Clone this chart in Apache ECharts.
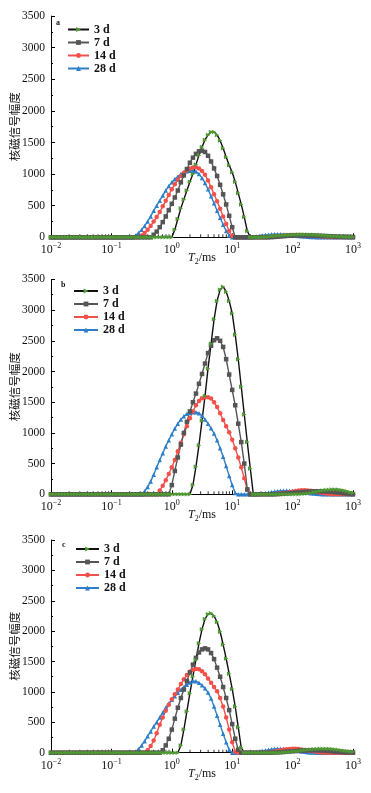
<!DOCTYPE html>
<html><head><meta charset="utf-8">
<script src="https://cdn.jsdelivr.net/npm/echarts@6/dist/echarts.min.js"></script>
<style>html,body{margin:0;padding:0;background:#fff}#c{width:371px;height:793px}</style>
</head><body><div id="c"></div>
<script>
// T2 relaxation times (ms), shared sampling grid
const T2 = [
0.01,0.01122,0.01259,0.01413,0.01585,0.01778,0.01995,0.02239,0.02512,0.02818,0.03162,0.03548,0.03981,0.04467,0.05012,0.05623,0.0631,0.07079,0.07943,0.08913,
0.1,0.1122,0.1259,0.1413,0.1585,0.1778,0.1995,0.2239,0.2512,0.2818,0.3162,0.3548,0.3981,0.4467,0.5012,0.5623,0.631,0.7079,0.7943,0.8913,
1,1.122,1.259,1.413,1.585,1.778,1.995,2.239,2.512,2.818,3.162,3.548,3.981,4.467,5.012,5.623,6.31,7.079,7.943,8.913,
10,11.22,12.59,14.13,15.85,17.78,19.95,22.39,25.12,28.18,31.62,35.48,39.81,44.67,50.12,56.23,63.1,70.79,79.43,89.13,
100,112.2,125.9,141.3,158.5,177.8,199.5,223.9,251.2,281.8,316.2,354.8,398.1,446.7,501.2,562.3,631,707.9,794.3,891.3,
1000];

const seriesNames = ['3 d','7 d','14 d','28 d'];
const panelLabels = ['a','b','c'];
const xTickValues = [0.01,0.1,1,10,100,1000];
const minorMultipliers = [2,3,4,5,6,7,8,9];

// Panel a
const a3 = [
0,0,0,0,0,0,0,0,0,0,0,0,0,0,0,0,0,0,0,0,
0,0,0,0,0,0,0,0,0,0,0,0,0,0,0,0,0,0,0,0,
0,120,290,460,600,740,880,1000,1150,1300,1430,1540,1620,1665,1665,1620,1530,1410,1270,1140,
1030,880,700,520,320,100,0,0,0,0,0,5,10,15,20,25,30,33,36,38,
40,42,43,44,44,43,42,40,37,34,30,26,22,18,15,12,10,8,6,5,
4];
const a7 = [
0,0,0,0,0,0,0,0,0,0,0,0,0,0,0,0,0,0,0,0,
0,0,0,0,0,0,0,0,0,0,0,0,0,0,40,90,160,240,330,430,
530,630,740,870,980,1080,1180,1260,1320,1360,1370,1350,1290,1200,1090,970,830,680,520,340,
160,0,0,0,0,0,0,0,0,0,0,0,0,3,6,10,14,18,22,25,
28,30,31,32,32,31,30,28,26,24,22,20,18,16,14,12,10,8,6,5,
4];
const a14 = [
0,0,0,0,0,0,0,0,0,0,0,0,0,0,0,0,0,0,0,0,
0,0,0,0,0,0,0,0,0,0,30,70,120,180,250,320,400,490,580,670,
760,840,910,970,1020,1060,1090,1105,1107,1090,1050,990,900,790,680,570,450,330,210,100,
20,0,0,0,0,0,0,0,0,0,0,0,3,7,12,17,22,27,31,34,
36,37,37,36,34,31,28,24,20,16,12,9,6,4,2,0,0,0,0,0,
0];
const a28 = [
0,0,0,0,0,0,0,0,0,0,0,0,0,0,0,0,0,0,0,0,
0,0,0,0,0,0,0,0,30,70,120,180,250,330,420,500,580,660,740,810,
870,920,960,1000,1025,1045,1054,1054,1040,1000,940,860,760,650,540,420,310,200,100,30,
0,0,0,0,0,0,0,5,12,20,28,36,42,47,50,50,48,45,40,35,
30,25,20,15,11,8,5,3,1,0,0,0,0,0,0,0,0,0,0,0,
0];

// Panel b
const b3 = [
0,0,0,0,0,0,0,0,0,0,0,0,0,0,0,0,0,0,0,0,
0,0,0,0,0,0,0,0,0,0,0,0,0,0,0,0,0,0,0,0,
0,0,0,0,0,0,0,150,450,800,1200,1600,2050,2450,2850,3150,3330,3382,3300,3150,
2950,2600,2200,1750,1300,850,420,0,0,0,0,0,0,0,0,0,0,0,0,0,
0,0,0,3,8,15,23,32,42,52,62,70,76,80,80,77,70,60,48,35,
25];
const b7 = [
0,0,0,0,0,0,0,0,0,0,0,0,0,0,0,0,0,0,0,0,
0,0,0,0,0,0,0,0,0,0,0,0,0,0,0,0,0,0,0,0,
150,380,600,810,1000,1180,1350,1500,1640,1800,1960,2130,2300,2420,2510,2541,2500,2400,2200,1950,
1700,1450,1150,850,500,80,0,0,0,0,0,0,0,0,0,3,6,10,14,18,
22,26,30,34,38,42,45,48,50,50,49,47,44,40,35,30,24,18,12,6,
2];
const b14 = [
0,0,0,0,0,0,0,0,0,0,0,0,0,0,0,0,0,0,0,0,
0,0,0,0,0,0,0,0,0,0,0,0,0,0,0,0,60,140,230,330,
440,560,700,840,980,1110,1240,1350,1450,1520,1565,1580,1580,1560,1500,1420,1320,1210,1110,1010,
890,750,600,440,260,70,0,0,0,0,0,0,0,0,3,8,14,20,27,34,
42,52,60,65,65,62,56,48,40,31,22,14,7,2,0,0,0,0,0,0,
0];
const b28 = [
0,0,0,0,0,0,0,0,0,0,0,0,0,0,0,0,0,0,0,0,
0,0,0,0,0,0,0,0,0,0,0,50,120,210,320,440,560,670,780,880,
980,1070,1150,1220,1270,1310,1330,1336,1336,1320,1280,1220,1150,1075,990,880,750,610,460,300,
150,20,0,0,0,0,0,0,0,3,10,18,27,36,44,51,56,59,60,59,
56,52,46,40,33,26,19,13,8,4,1,0,0,0,0,0,0,0,0,0,
0];

// Panel c
const c3 = [
0,0,0,0,0,0,0,0,0,0,0,0,0,0,0,0,0,0,0,0,
0,0,0,0,0,0,0,0,0,0,0,0,0,0,0,0,0,0,0,0,
0,0,0,120,380,680,980,1260,1530,1800,2030,2200,2280,2293,2250,2150,1990,1780,1550,1300,
1050,760,420,80,0,0,0,0,0,0,0,0,0,0,0,0,2,5,9,13,
18,23,29,35,41,47,52,57,61,64,65,65,63,59,54,48,41,34,27,20,
14];
const c7 = [
0,0,0,0,0,0,0,0,0,0,0,0,0,0,0,0,0,0,0,0,
0,0,0,0,0,0,0,0,0,0,0,0,0,0,0,0,0,40,120,230,
380,560,740,900,1040,1180,1320,1450,1560,1650,1700,1717,1700,1640,1540,1400,1250,1080,900,700,
470,230,50,0,0,0,0,0,0,0,0,0,0,0,2,5,8,12,16,20,
24,28,32,35,38,40,41,41,40,38,35,32,28,24,20,16,12,9,6,4,
3];
const c14 = [
0,0,0,0,0,0,0,0,0,0,0,0,0,0,0,0,0,0,0,0,
0,0,0,0,0,0,0,0,0,0,0,0,40,110,200,320,460,580,690,790,
880,960,1040,1130,1210,1280,1330,1365,1377,1375,1340,1290,1220,1150,1080,1010,900,760,580,380,
170,20,0,0,0,0,0,0,0,0,0,0,3,10,20,30,40,50,57,62,
65,64,60,54,46,38,30,22,15,9,4,1,0,0,0,0,0,0,0,0,
0];
const c28 = [
0,0,0,0,0,0,0,0,0,0,0,0,0,0,0,0,0,0,0,0,
0,0,0,0,0,0,0,0,20,60,120,190,270,350,430,500,580,660,740,810,
870,930,985,1035,1080,1120,1155,1178,1175,1150,1110,1060,990,890,760,610,460,310,170,50,
0,0,0,0,0,0,2,6,12,20,29,38,47,55,61,65,65,63,58,51,
43,35,27,20,14,9,5,2,0,0,0,0,0,0,0,0,0,0,0,0,
0];

const panels = [
  {'3 d': a3, '7 d': a7, '14 d': a14, '28 d': a28},
  {'3 d': b3, '7 d': b7, '14 d': b14, '28 d': b28},
  {'3 d': c3, '7 d': c7, '14 d': c14, '28 d': c28}
];
panels.forEach(p => Object.values(p).forEach(arr => { if (arr.length !== T2.length) throw new Error('bad length ' + arr.length); }));

const styles = {
  '3 d':  {line: '#111111', mark: '#4f9a32', symbol: 'triangle', rotate: -90},
  '7 d':  {line: '#555555', mark: '#555555', symbol: 'rect', rotate: 0},
  '14 d': {line: '#f2504a', mark: '#f2504a', symbol: 'circle', rotate: 0},
  '28 d': {line: '#2e7fc9', mark: '#2e7fc9', symbol: 'triangle', rotate: 0}
};

const layout = [
  {top: 16.1, height: 221.2, legendTop: 23.5, legendLeft: 67, iconW: 21, lblLeft: 56, lblTop: 19},
  {top: 279.4, height: 214.9, legendTop: 285, legendLeft: 73, iconW: 24, lblLeft: 61, lblTop: 281},
  {top: 540, height: 212.7, legendTop: 543, legendLeft: 75, iconW: 23, lblLeft: 62, lblTop: 541}
];

const serif = 'Liberation Serif, Times New Roman, serif';
const grids = [], xAxes = [], yAxes = [], series = [], legends = [], titles = [];

layout.forEach((L, g) => {
  grids.push({left: 51, width: 302, top: L.top, height: L.height, containLabel: false, outerBoundsMode: 'none'});
  xAxes.push({
    type: 'log', logBase: 10, gridIndex: g, min: 0.01, max: 1000, splitNumber: 5,
    axisLine: {show: true, lineStyle: {color: '#000', width: 1}},
    axisTick: {show: true, inside: true, length: 4, lineStyle: {color: '#000'}},
    splitLine: {show: false},
    axisLabel: {
      margin: 5,
      formatter: v => { const e = Math.round(Math.log10(v)); return '{b|10}{s|' + (e < 0 ? '\u2212' + (-e) : e) + '}'; },
      rich: {
        b: {fontFamily: serif, fontSize: 12, color: '#111', verticalAlign: 'bottom', lineHeight: 14},
        s: {fontFamily: serif, fontSize: 8, color: '#111', verticalAlign: 'top', lineHeight: 14}
      }
    },
    name: '{i|T}{s|2}{n|/ms}', nameLocation: 'middle', nameGap: 15, nameMoveOverlap: false,
    nameTextStyle: {rich: {
      i: {fontFamily: serif, fontStyle: 'italic', fontSize: 12, color: '#111', verticalAlign: 'top', lineHeight: 14},
      s: {fontFamily: serif, fontSize: 8, color: '#111', verticalAlign: 'bottom', lineHeight: 14},
      n: {fontFamily: serif, fontSize: 12, color: '#111', verticalAlign: 'top', lineHeight: 14}
    }}
  });
  yAxes.push({
    type: 'value', gridIndex: g, min: 0, max: 3500, interval: 500,
    axisLine: {show: true, lineStyle: {color: '#000', width: 1}},
    axisTick: {show: true, inside: true, length: 4, lineStyle: {color: '#000'}},
    minorTick: {show: true, splitNumber: 2, length: 2, lineStyle: {color: '#000'}},
    splitLine: {show: false},
    axisLabel: {fontFamily: serif, fontSize: 11.5, color: '#111', margin: 6, formatter: v => String(v)},
    name: '核磁信号幅度', nameLocation: 'middle', nameGap: 31, nameRotate: 90, nameMoveOverlap: false,
    nameTextStyle: {fontFamily: 'Noto Sans CJK SC', fontSize: 11.5, color: '#111'}
  });
  // minor log ticks on x axis (axis decoration)
  const minorTicks = [];
  xTickValues.slice(0, -1).forEach(d => minorMultipliers.forEach(m => minorTicks.push([d * m, 0])));
  series.push({
    type: 'scatter', xAxisIndex: g, yAxisIndex: g, silent: true, z: 1,
    symbol: 'rect', symbolSize: [1, 3], symbolOffset: [0, -1.5],
    itemStyle: {color: '#000'}, data: minorTicks
  });
  ['28 d', '14 d', '7 d', '3 d'].forEach(name => {
    const st = styles[name];
    const vals = panels[g][name];
    series.push({
      type: 'line', name: name, xAxisIndex: g, yAxisIndex: g,
      data: T2.map((t, i) => [t, vals[i]]),
      symbol: st.symbol, symbolRotate: st.rotate, symbolSize: 4.5, showSymbol: true, showAllSymbol: true,
      lineStyle: {color: st.line, width: 1.4},
      itemStyle: {color: st.mark},
      z: 3
    });
  });
  legends.push({
    orient: 'vertical', left: L.legendLeft, top: L.legendTop,
    itemWidth: L.iconW, itemHeight: 6, itemGap: 1, padding: 0,
    data: seriesNames,
    textStyle: {fontFamily: serif, fontSize: 12, fontWeight: 'bold', color: '#111', lineHeight: 11}
  });
  titles.push({
    text: panelLabels[g], left: L.lblLeft, top: L.lblTop, padding: 0,
    textStyle: {fontFamily: serif, fontSize: 8, fontWeight: 'bold', color: '#111'}
  });
});

const chart = echarts.init(document.getElementById('c'), null, {renderer: 'canvas'});
chart.setOption({
  animation: false,
  backgroundColor: '#ffffff',
  title: titles,
  grid: grids,
  xAxis: xAxes,
  yAxis: yAxes,
  legend: legends,
  series: series
});
</script>
</body></html>
